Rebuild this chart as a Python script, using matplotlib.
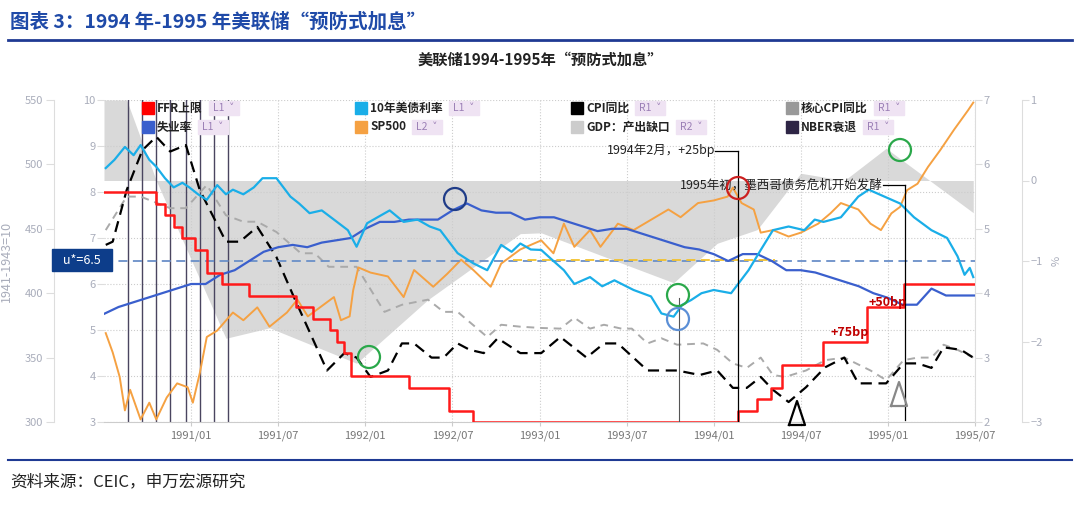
import matplotlib
matplotlib.use("Agg")
import matplotlib.pyplot as plt
from matplotlib.patches import Rectangle, Ellipse

plt.rcParams['font.family'] = ['Noto Sans CJK SC', 'DejaVu Sans']

# ---------------- data ----------------
ffr_dates = [1990.5, 1990.80, 1990.85, 1990.90, 1990.95, 1991.02, 1991.09, 1991.18, 1991.33, 1991.60,
             1991.70, 1991.80, 1991.84, 1991.88, 1991.92, 1992.25, 1992.48, 1992.62, 1994.14, 1994.25,
             1994.33, 1994.39, 1994.63, 1994.88, 1995.09, 1995.5]
ffr_vals = [8.0, 7.75, 7.5, 7.25, 7.0, 6.75, 6.25, 6.0, 5.75, 5.5,
            5.25, 5.0, 4.75, 4.5, 4.0, 3.75, 3.25, 3.0, 3.25, 3.5,
            3.75, 4.25, 4.75, 5.5, 6.0, 6.0]

unemp_dates = [1990.5 + i / 12 for i in range(61)]
unemp_vals = [5.35, 5.5, 5.6, 5.7, 5.8, 5.9,
              6.0, 6.0, 6.2, 6.3, 6.5, 6.7, 6.8, 6.85, 6.8, 6.9, 6.95, 7.0,
              7.2, 7.35, 7.35, 7.4, 7.4, 7.4, 7.6, 7.75, 7.6, 7.55, 7.55, 7.4,
              7.45, 7.45, 7.35, 7.25, 7.15, 7.2, 7.2, 7.1, 7.0, 6.9, 6.8, 6.75,
              6.65, 6.5, 6.65, 6.65, 6.5, 6.3, 6.3, 6.25, 6.15, 6.05, 5.95, 5.8,
              5.7, 5.55, 5.55, 5.9, 5.75, 5.75, 5.75]

y10_dates = [1990.51, 1990.56, 1990.62, 1990.67, 1990.71, 1990.76, 1990.80, 1990.85, 1990.90, 1990.95,
             1990.99, 1991.04, 1991.09, 1991.15, 1991.20, 1991.24, 1991.30, 1991.36, 1991.41, 1991.49,
             1991.57, 1991.62, 1991.68, 1991.75, 1991.82, 1991.90, 1991.95, 1992.01, 1992.07, 1992.14,
             1992.22, 1992.30, 1992.37, 1992.43, 1992.53, 1992.62, 1992.70, 1992.78, 1992.84, 1992.89,
             1992.95, 1993.01, 1993.08, 1993.14, 1993.20, 1993.29, 1993.36, 1993.43, 1993.54, 1993.64,
             1993.70, 1993.77, 1993.82, 1993.87, 1993.93, 1994.00, 1994.10, 1994.15, 1994.20, 1994.27,
             1994.34, 1994.43, 1994.52, 1994.58, 1994.63, 1994.73, 1994.83, 1994.89, 1994.98, 1995.07,
             1995.15, 1995.25, 1995.34, 1995.40, 1995.44, 1995.47, 1995.49]
y10_vals = [8.52, 8.7, 8.98, 8.8, 9.02, 8.7, 8.55, 8.3, 8.1, 8.2,
            8.1, 7.95, 7.83, 8.15, 7.95, 8.05, 7.95, 8.1, 8.3, 8.3,
            7.9, 7.75, 7.54, 7.6, 7.4, 7.17, 6.81, 7.32, 7.45, 7.6,
            7.35, 7.4, 7.25, 7.17, 6.67, 6.45, 6.3, 6.85, 6.7, 6.88,
            6.75, 6.74, 6.5, 6.3, 6.0, 6.15, 5.95, 6.08, 5.87, 5.73,
            5.36, 5.29, 5.55, 5.65, 5.8, 5.87, 5.8, 6.05, 6.3, 6.74,
            7.17, 7.25, 7.17, 7.4, 7.35, 7.45, 7.9, 8.05, 7.9, 7.75,
            7.45, 7.17, 7.0, 6.6, 6.2, 6.35, 6.15]

sp_dates = [1990.51, 1990.55, 1990.59, 1990.62, 1990.65, 1990.71, 1990.76, 1990.80, 1990.86, 1990.92,
            1990.98, 1991.01, 1991.05, 1991.09, 1991.15, 1991.24, 1991.30, 1991.38, 1991.45, 1991.55,
            1991.61, 1991.67, 1991.74, 1991.82, 1991.86, 1991.91, 1991.93, 1991.96, 1992.03, 1992.13,
            1992.22, 1992.28, 1992.39, 1992.47, 1992.55, 1992.62, 1992.72, 1992.78, 1992.89,
            1993.01, 1993.08, 1993.14, 1993.20, 1993.29, 1993.35, 1993.45, 1993.54, 1993.64, 1993.74,
            1993.81, 1993.91, 1994.00, 1994.08, 1994.11, 1994.16, 1994.23, 1994.27, 1994.34, 1994.43,
            1994.50, 1994.60, 1994.67, 1994.73, 1994.83, 1994.90, 1994.96, 1995.02, 1995.07, 1995.11,
            1995.17, 1995.23, 1995.30, 1995.38, 1995.46, 1995.49]
sp_vals = [369, 354, 335, 309, 325, 302, 315, 302, 319, 330,
           327, 315, 338, 366, 371, 385, 379, 389, 374, 385,
           395, 382, 389, 397, 379, 382, 402, 420, 416, 413,
           397, 418, 405, 415, 426, 418, 405, 423, 434,
           441, 431, 454, 436, 449, 436, 454, 449, 457, 465,
           459, 470, 472, 475, 482, 470, 465, 447, 449, 444,
           447, 454, 462, 470, 465, 454, 449, 462, 467, 480,
           485, 498, 511, 527, 542, 548]

cpi_dates = [1990.51, 1990.55, 1990.63, 1990.72, 1990.80, 1990.88, 1990.97, 1991.05, 1991.20, 1991.28,
             1991.38, 1991.49, 1991.59, 1991.78, 1991.88, 1991.95, 1992.03, 1992.13, 1992.21, 1992.28,
             1992.38, 1992.45, 1992.53, 1992.60, 1992.68, 1992.76, 1992.89, 1993.01, 1993.12, 1993.27,
             1993.37, 1993.45, 1993.62, 1993.79, 1993.92, 1994.02, 1994.11, 1994.19, 1994.27, 1994.34,
             1994.43, 1994.53, 1994.64, 1994.75, 1994.83, 1994.99, 1995.09, 1995.17, 1995.25, 1995.32,
             1995.42, 1995.49]
cpi_vals = [4.75, 4.8, 5.6, 6.22, 6.43, 6.2, 6.3, 5.6, 4.8, 4.8,
            5.03, 4.56, 3.94, 2.8, 3.07, 3.0, 2.7, 2.8, 3.22, 3.22,
            3.0, 3.0, 3.22, 3.12, 3.07, 3.3, 3.07, 3.07, 3.32, 3.0,
            3.22, 3.22, 2.8, 2.8, 2.73, 2.8, 2.53, 2.53, 2.7, 2.5,
            2.31, 2.54, 2.85, 3.0, 2.6, 2.6, 2.91, 2.91, 2.84, 3.16,
            3.12, 3.0]

core_dates = [1990.51, 1990.63, 1990.71, 1990.88, 1990.97, 1991.09, 1991.20, 1991.30, 1991.38, 1991.49,
              1991.63, 1991.71, 1991.79, 1991.95, 1992.11, 1992.21, 1992.36, 1992.45, 1992.53, 1992.70,
              1992.78, 1992.89, 1993.01, 1993.12, 1993.20, 1993.29, 1993.37, 1993.47, 1993.53, 1993.62,
              1993.70, 1993.79, 1993.94, 1994.02, 1994.11, 1994.19, 1994.27, 1994.34, 1994.41, 1994.53,
              1994.64, 1994.75, 1994.90, 1994.99, 1995.09, 1995.17, 1995.25, 1995.32, 1995.40, 1995.49]
core_vals = [4.98, 5.5, 5.5, 5.32, 5.32, 5.68, 5.21, 5.11, 5.11, 4.95,
             4.62, 4.62, 4.41, 4.41, 3.71, 3.82, 3.9, 3.71, 3.71, 3.32,
             3.51, 3.48, 3.46, 3.45, 3.62, 3.45, 3.51, 3.45, 3.45, 3.22,
             3.3, 3.2, 3.22, 3.12, 2.91, 2.84, 3.0, 2.73, 2.7, 2.8,
             2.96, 3.0, 2.8, 2.65, 2.96, 3.0, 3.0, 3.2, 3.12, 3.0]

gap_dates = [1990.5, 1990.63, 1990.80, 1991.20, 1991.45, 1991.95, 1992.36, 1992.89, 1993.01,
             1993.77, 1994.02, 1994.25, 1994.50, 1994.75, 1994.99, 1995.49]
gap_vals = [1.0, 1.0, 0.0, -1.96, -1.83, -2.27, -1.48, -0.66, -0.65,
            -1.27, -0.78, -0.61, 0.09, 0.0, 0.4, -0.4]

nber_dates = [1990.64, 1990.72, 1990.80, 1990.88, 1990.97, 1991.05, 1991.13, 1991.21]

xtick_pos = [1991.0, 1991.5, 1992.0, 1992.5, 1993.0, 1993.5, 1994.0, 1994.5, 1995.0, 1995.5]
xtick_labels = ["1991/01", "1991/07", "1992/01", "1992/07", "1993/01", "1993/07",
                "1994/01", "1994/07", "1995/01", "1995/07"]

# ---------------- figure ----------------
W, H = 1080, 505
fig = plt.figure(figsize=(W / 100, H / 100), dpi=100)
def fx(px): return px / W
def fy(py): return 1 - py / H

fig.text(fx(10), fy(22), "图表 3：1994 年-1995 年美联储“预防式加息”", fontsize=14,
         fontweight='bold', color="#1f4aa8", va='center', ha='left')
fig.add_artist(plt.Line2D([fx(8), fx(1072)], [fy(40), fy(40)], color="#1f3a93", lw=2))
fig.text(0.5, fy(60), "美联储1994-1995年“预防式加息”", fontsize=11, fontweight='bold',
         ha='center', va='center', color='#222')
fig.add_artist(plt.Line2D([fx(8), fx(1072)], [fy(460), fy(460)], color="#1f3a93", lw=1.5))
fig.text(fx(10), fy(482), "资料来源：CEIC，申万宏源研究", fontsize=12, va='center', ha='left', color='#222')

L, R, T, B = 104, 975, 100, 422
ax = fig.add_axes([fx(L), fy(B), fx(R - L), (B - T) / H])
ax.set_xlim(1990.5, 1995.5)
ax.set_ylim(3, 10)
for s in ax.spines.values():
    s.set_visible(False)
ax.spines['bottom'].set_visible(True)
ax.spines['bottom'].set_color('#cccccc')

tick_col = '#a9adbb'
ax.set_xticks(xtick_pos)
ax.set_xticklabels(xtick_labels, fontsize=8, color='#777')
ax.tick_params(axis='x', length=3, color='#ccc', pad=3)
ax.set_yticks(range(3, 11))
ax.tick_params(axis='y', labelsize=8, labelcolor=tick_col, length=5, color='#ddd', pad=1)
ax.grid(True, axis='both', linestyle=':', color='#cccccc', lw=0.8)

ax_r2 = ax.twinx()
ax_r2.set_ylim(-3, 1)
ax_r2.set_zorder(0)
ax.set_zorder(1)
ax.patch.set_visible(False)
ax_r2.fill_between(gap_dates, 0, gap_vals, color='#d9d9d9', lw=0)
for s in ax_r2.spines.values():
    s.set_visible(False)
ax_r2.spines['right'].set_visible(True)
ax_r2.spines['right'].set_position(('outward', 34))
ax_r2.spines['right'].set_color('#dddddd')
ax_r2.set_yticks(range(-3, 2))
ax_r2.tick_params(axis='y', labelsize=8, labelcolor=tick_col, color='#ddd', length=5, pad=1)
ax_r2.set_ylabel('%', color=tick_col, fontsize=8, rotation=90, labelpad=6)

for d in nber_dates:
    ax.axvline(d, color='#4a4560', lw=1.0, zorder=2)

ax_r1 = ax.twinx()
ax_r1.set_ylim(2, 7)
ax_r1.set_zorder(2)
ax_r1.patch.set_visible(False)
for s in ax_r1.spines.values():
    s.set_visible(False)
ax_r1.spines['right'].set_visible(True)
ax_r1.spines['right'].set_color('#dddddd')
ax_r1.set_yticks(range(2, 8))
ax_r1.tick_params(axis='y', labelsize=8, labelcolor=tick_col, color='#ddd', length=5, pad=1)
ax_r1.plot(core_dates, core_vals, color='#aaaaaa', lw=1.4, ls=(0, (4, 3)))
ax_r1.plot(cpi_dates, cpi_vals, color='black', lw=1.6, ls=(0, (5, 3)))

ax_l2 = ax.twinx()
ax_l2.set_ylim(300, 550)
ax_l2.set_zorder(3)
ax_l2.patch.set_visible(False)
for s in ax_l2.spines.values():
    s.set_visible(False)
ax_l2.yaxis.set_ticks_position('left')
ax_l2.yaxis.set_label_position('left')
ax_l2.spines['left'].set_visible(True)
ax_l2.spines['left'].set_position(('outward', 36))
ax_l2.spines['left'].set_color('#dddddd')
ax_l2.set_yticks(range(300, 551, 50))
ax_l2.tick_params(axis='y', labelsize=8, labelcolor=tick_col, color='#ddd', length=6, pad=2)
ax_l2.set_ylabel('1941-1943=10', color=tick_col, fontsize=9, labelpad=8)
ax_l2.plot(sp_dates, sp_vals, color='#f5a142', lw=1.4)

ax_top = ax.twinx()
ax_top.set_ylim(3, 10)
ax_top.set_zorder(4)
ax_top.patch.set_visible(False)
ax_top.axis('off')
ax_top.axhline(6.5, color='#6a8fc8', lw=1.3, ls=(0, (5, 3)))
ax_top.plot([1992.85, 1994.35], [6.53, 6.53], color='#f2c12e', lw=1.3, ls=(0, (5, 3)))
ax_top.plot(unemp_dates, unemp_vals, color='#3a5fcd', lw=1.6)
ax_top.plot(y10_dates, y10_vals, color='#1aaee8', lw=1.6)
ax_top.step(ffr_dates, ffr_vals, where='post', color='#ff1a1a', lw=1.8)

ax_top.plot([1994.14, 1994.14], [3.0, 8.9], color='black', lw=0.9)
ax_top.plot([1993.80, 1993.80], [3.0, 5.7], color='#555', lw=0.8)
ax_top.plot([1995.10, 1995.10], [3.05, 8.15], color='black', lw=0.9)
ax_top.plot([1994.14, 1994.01], [8.9, 8.9], color='black', lw=0.9)
ax_top.plot([1995.10, 1994.97], [8.15, 8.15], color='black', lw=0.9)
ax_top.text(1994.01, 8.9, "1994年2月，+25bp", fontsize=9, ha='right', va='center', color='#222')
ax_top.text(1994.97, 8.15, "1995年初，墨西哥债务危机开始发酵", fontsize=9, ha='right', va='center', color='#222')
ax_top.text(1995.0, 5.6, "+50bp", fontsize=9, color='#c00000', fontweight='bold', ha='center', va='center')
ax_top.text(1994.78, 4.95, "+75bp", fontsize=9, color='#c00000', fontweight='bold', ha='center', va='center')

# overlay in pixel coordinates
ov = fig.add_axes([0, 0, 1, 1])
ov.set_xlim(0, W)
ov.set_ylim(H, 0)
ov.axis('off')
ov.set_zorder(10)
ov.patch.set_visible(False)

def circle(px, py, r, col):
    ov.add_patch(Ellipse((px, py), 2 * r, 2 * r, fill=False, ec=col, lw=1.6))
circle(455, 199, 11, '#1f3c88')
circle(738, 188, 11, '#cc1f1f')
circle(369, 357, 11, '#2aa84a')
circle(678, 295, 11, '#2aa84a')
circle(678, 319, 11, '#5b8fd6')
circle(900, 150, 11, '#2aa84a')

def triangle(px, py, col):
    ov.plot([px - 8, px + 8, px, px - 8], [py + 12, py + 12, py - 12, py + 12], color=col, lw=1.6)
triangle(797, 413, 'black')
triangle(899, 394, '#888888')

ov.add_patch(Rectangle((52, 249), 60, 22, color='#0d3d8a'))
ov.text(82, 260, "u*=6.5", color='white', fontsize=9, ha='center', va='center')

legend = [
    (148, 108, '#ff0000', 'FFR上限', 'L1'), (148, 127, '#3a5fcd', '失业率', 'L1'),
    (361, 108, '#1aaee8', '10年美债利率', 'L1'), (361, 127, '#f5a142', 'SP500', 'L2'),
    (577, 108, '#000000', 'CPI同比', 'R1'), (577, 127, '#cccccc', 'GDP：产出缺口', 'R2'),
    (792, 108, '#999999', '核心CPI同比', 'R1'), (792, 127, '#2e2545', 'NBER衰退', 'R1'),
]
renderer = fig.canvas.get_renderer()
for px, py, col, lab, tag in legend:
    ov.add_patch(Rectangle((px - 6, py - 6), 12, 12, color=col))
    t = ov.text(px + 9, py, lab, fontsize=8.5, fontweight='bold', ha='left', va='center', color='#222')
    bb = t.get_window_extent(renderer=renderer)
    tx = bb.x1 + 6
    ov.add_patch(Rectangle((tx, py - 7), 30, 14, color='#efe3f3'))
    ov.text(tx + 4, py, tag + "  ˅", fontsize=7.5, color='#9b7fb6', ha='left', va='center')

fig.savefig("out.png", dpi=100)
